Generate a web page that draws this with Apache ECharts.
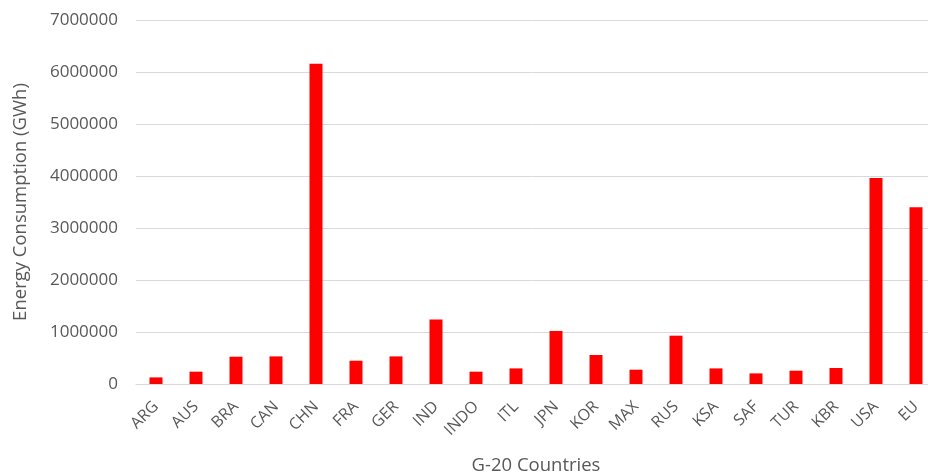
<!DOCTYPE html>
<html>
<head>
<meta charset="utf-8">
<script src="https://cdn.jsdelivr.net/npm/echarts@6/dist/echarts.min.js"></script>
<style>
  html, body { margin: 0; padding: 0; background: #fff; }
  #chart { width: 928px; height: 475px; }
</style>
</head>
<body>
<div id="chart"></div>
<script>
// G-20 electricity consumption by country (GWh)
const countries = ['ARG', 'AUS', 'BRA', 'CAN', 'CHN', 'FRA', 'GER', 'IND', 'INDO', 'ITL',
  'JPN', 'KOR', 'MAX', 'RUS', 'KSA', 'SAF', 'TUR', 'KBR', 'USA', 'EU'];
const consumption = [127000, 237000, 525000, 531000, 6160000, 448000, 531000, 1242000, 237000, 300000,
  1020000, 558000, 275000, 929000, 300000, 204000, 256000, 308000, 3960000, 3400000];
const yTicks = { min: 0, max: 7000000, interval: 1000000 };

const textGray = '#595959';
const font = '"Open Sans", "Noto Sans", sans-serif';

const chart = echarts.init(document.getElementById('chart'), null, { renderer: 'canvas' });
chart.setOption({
  animation: false,
  backgroundColor: '#ffffff',
  grid: {
    left: 136, top: 20, width: 800, height: 364,
    containLabel: false, outerBoundsMode: 'none'
  },
  xAxis: {
    type: 'category',
    data: countries,
    name: 'G-20 Countries',
    nameLocation: 'middle',
    nameGap: 72,
    nameTextStyle: { color: textGray, fontSize: 18.5, fontFamily: font },
    axisLine: { show: true, lineStyle: { color: '#d9d9d9', width: 1 } },
    axisTick: { show: false },
    axisLabel: {
      color: textGray, fontSize: 16, fontFamily: font,
      rotate: 45, margin: 20, interval: 0
    }
  },
  yAxis: {
    type: 'value',
    min: yTicks.min,
    max: yTicks.max,
    interval: yTicks.interval,
    name: 'Energy Consumption (GWh)',
    nameLocation: 'middle',
    nameGap: 106,
    nameTextStyle: { color: textGray, fontSize: 18.5, fontFamily: font },
    axisLine: { show: false },
    axisTick: { show: false },
    axisLabel: {
      color: textGray, fontSize: 17, fontFamily: font, margin: 18,
      formatter: v => String(v)
    },
    splitLine: { lineStyle: { color: '#d9d9d9', width: 1 } }
  },
  series: [{
    type: 'bar',
    data: consumption,
    barWidth: 13,
    itemStyle: { color: '#ff0000' }
  }]
});
</script>
</body>
</html>
